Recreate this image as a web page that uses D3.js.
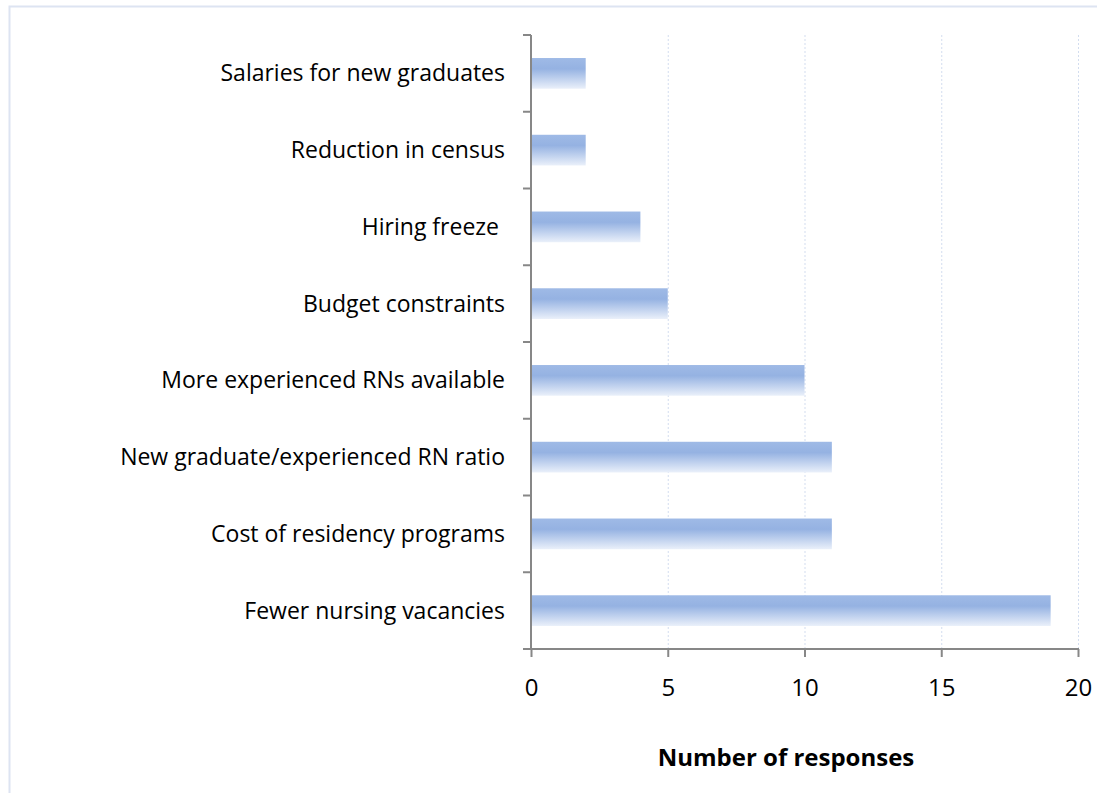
<!DOCTYPE html>
<html lang="en">
<head>
<meta charset="utf-8">
<title>Number of responses</title>
<script src="https://cdn.jsdelivr.net/npm/d3@7"></script>
<style>
  body { margin: 0; background: #fff; }
  text { font-family: "Open Sans", sans-serif; fill: #000; }
</style>
</head>
<body>
<script>
// categories top to bottom, as shown
var categories = [
  "Salaries for new graduates",
  "Reduction in census",
  "Hiring freeze ",
  "Budget constraints",
  "More experienced RNs available",
  "New graduate/experienced RN ratio",
  "Cost of residency programs",
  "Fewer nursing vacancies"
]
var responses = [2, 2, 4, 5, 10, 11, 11, 19]
var xTicks = [0, 5, 10, 15, 20]

var W = 1097, H = 793
var svg = d3.select("body").append("svg")
  .attr("width", W)
  .attr("height", H)

// light chart border
svg.append("rect")
  .attr("x", 9.5).attr("y", 6.5)
  .attr("width", W).attr("height", H)
  .attr("fill", "none")
  .attr("stroke", "#dde4f2")
  .attr("stroke-width", 2)

var defs = svg.append("defs")
var grad = defs.append("linearGradient")
  .attr("id", "barGrad")
  .attr("x1", 0).attr("y1", 0).attr("x2", 0).attr("y2", 1)
grad.append("stop").attr("offset", "0%").attr("stop-color", "#9fbae6")
grad.append("stop").attr("offset", "35%").attr("stop-color", "#95b2e2")
grad.append("stop").attr("offset", "100%").attr("stop-color", "#eaf0fa")

var x = d3.scaleLinear().domain([0, 20]).range([531, 1078])
var y = d3.scaleBand().domain(categories).range([35, 649]).paddingInner(0.6).paddingOuter(0.3)
var band = d3.scaleBand().domain(categories).range([35, 649])

// dotted gridlines
svg.selectAll(".grid")
  .data(xTicks.filter(function(d){ return d > 0 }))
  .enter().append("line")
  .attr("x1", function(d){ return x(d) + 0.5 })
  .attr("x2", function(d){ return x(d) + 0.5 })
  .attr("y1", 35).attr("y2", 649)
  .attr("stroke", "#d3ddef")
  .attr("stroke-width", 1)
  .attr("stroke-dasharray", "2,2")

// bars
svg.selectAll(".bar")
  .data(categories)
  .enter().append("rect")
  .attr("x", x(0) + 1)
  .attr("y", function(d){ return y(d) })
  .attr("width", function(d, i){ return x(responses[i]) - x(0) - 1 })
  .attr("height", y.bandwidth())
  .attr("fill", "url(#barGrad)")

// category axis with ticks on the band boundaries
var axisColor = "#878787"
svg.append("line")
  .attr("x1", 531).attr("x2", 531)
  .attr("y1", 35).attr("y2", 649)
  .attr("stroke", axisColor).attr("stroke-width", 2)
var bounds = categories.map(function(d){ return band(d) })
svg.selectAll(".ytick")
  .data(bounds)
  .enter().append("line")
  .attr("x1", 523).attr("x2", 531)
  .attr("y1", function(d){ return d }).attr("y2", function(d){ return d })
  .attr("stroke", axisColor).attr("stroke-width", 2)

svg.selectAll(".ylabel")
  .data(categories)
  .enter().append("text")
  .attr("x", 505)
  .attr("y", function(d){ return band(d) + band.bandwidth() / 2 })
  .attr("dy", "0.35em")
  .attr("text-anchor", "end")
  .attr("font-size", 23)
  .style("white-space", "pre")
  .text(function(d){ return d })

// value axis
var xAxis = d3.axisBottom(x).tickValues(xTicks).tickSize(8).tickPadding(22)
var gx = svg.append("g")
  .attr("transform", "translate(0,649)")
  .call(xAxis)
gx.select(".domain").remove()
gx.append("line")
  .attr("x1", 523).attr("x2", 1079)
  .attr("stroke", axisColor).attr("stroke-width", 2)
gx.selectAll(".tick line").attr("stroke", axisColor).attr("stroke-width", 2)
gx.selectAll(".tick text")
  .attr("font-size", 24)
  .attr("font-family", "'Open Sans', sans-serif")
  .attr("fill", "#000")

svg.append("text")
  .attr("x", 786)
  .attr("y", 766)
  .attr("text-anchor", "middle")
  .attr("font-size", 24)
  .attr("font-weight", "bold")
  .text("Number of responses")
</script>
</body>
</html>
